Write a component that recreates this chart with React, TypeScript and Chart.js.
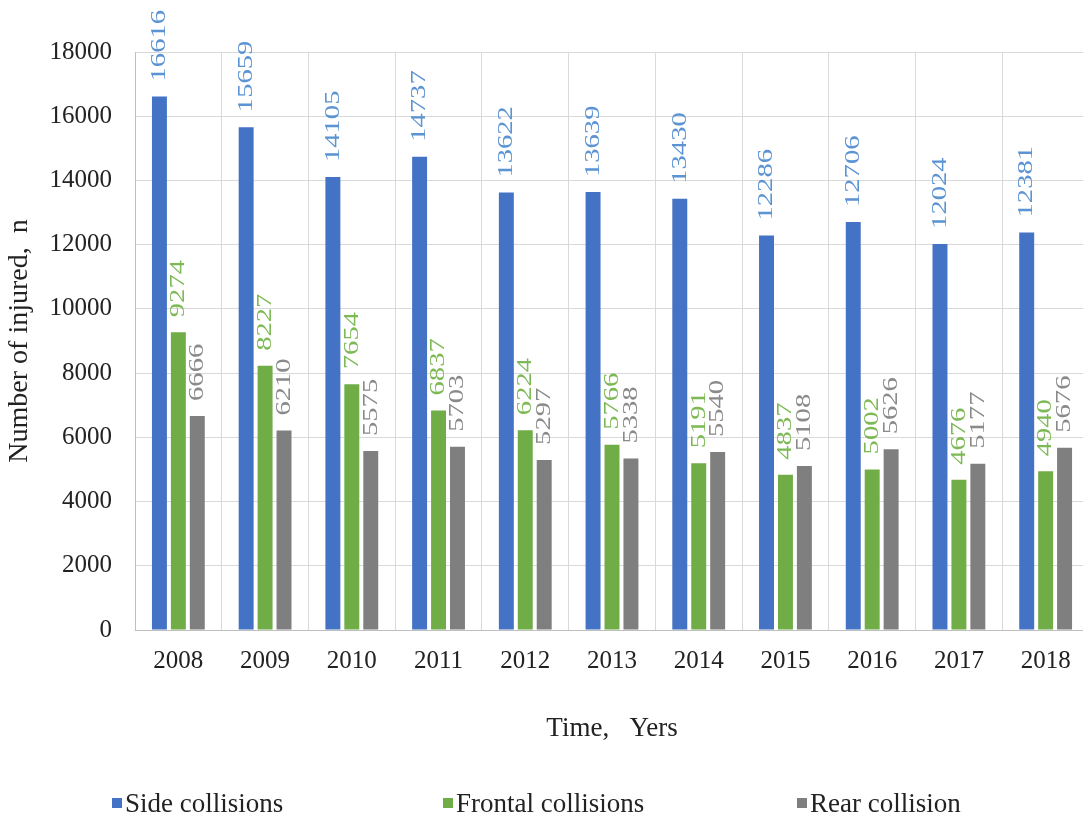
import React, { useEffect, useRef } from "react";
import { Chart, registerables } from "chart.js";

Chart.register(...registerables);

const years = ["2008", "2009", "2010", "2011", "2012", "2013", "2014", "2015", "2016", "2017", "2018"];
const sideCollisions = [16616, 15659, 14105, 14737, 13622, 13639, 13430, 12286, 12706, 12024, 12381];
const frontalCollisions = [9274, 8227, 7654, 6837, 6224, 5766, 5191, 4837, 5002, 4676, 4940];
const rearCollisions = [6666, 6210, 5575, 5703, 5297, 5338, 5540, 5108, 5626, 5177, 5676];
const yTickStep = 2000;
const yMax = 18000;

const seriesNames = ["Side collisions", "Frontal collisions", "Rear collision"];
const barColors = ["#4472C4", "#70AD47", "#7F7F7F"];
const valueColors = ["#5B93D3", "#7DB955", "#8A8A8A"];

const SERIF = "'Liberation Serif', 'Times New Roman', serif";

// Rotated value labels drawn just above each bar
const barValueLabels = {
  id: "barValueLabels",
  afterDatasetsDraw(chart: any) {
    const { ctx } = chart;
    chart.data.datasets.forEach((ds: any, di: number) => {
      const meta = chart.getDatasetMeta(di);
      meta.data.forEach((el: any, i: number) => {
        ctx.save();
        ctx.translate(el.x, el.y - 15);
        ctx.rotate(-Math.PI / 2);
        ctx.scale(1.3, 1);
        ctx.font = `22px ${SERIF}`;
        ctx.fillStyle = valueColors[di];
        ctx.textAlign = "left";
        ctx.textBaseline = "middle";
        ctx.fillText(String(ds.data[i]), 0, 0);
        ctx.restore();
      });
    });
  },
};

export default function App() {
  const canvasRef = useRef<HTMLCanvasElement | null>(null);

  useEffect(() => {
    const canvas = canvasRef.current;
    if (!canvas) return;
    const chart = new Chart(canvas, {
      type: "bar",
      data: {
        labels: years,
        datasets: [sideCollisions, frontalCollisions, rearCollisions].map((values, i) => ({
          label: seriesNames[i],
          data: values,
          backgroundColor: barColors[i],
          borderWidth: 0,
          categoryPercentage: 0.655,
          barPercentage: 0.79,
        })),
      },
      options: {
        responsive: false,
        animation: false,
        devicePixelRatio: 1,
        layout: { padding: { left: 0, right: 6, top: 52, bottom: 73 } },
        plugins: {
          legend: { display: false },
          tooltip: { enabled: false },
        },
        scales: {
          x: {
            grid: { display: true, offset: true, color: "#D9D9D9", lineWidth: 1, drawTicks: false },
            border: { display: true, color: "#BFBFBF" },
            ticks: { color: "#222", font: { family: SERIF, size: 25 }, padding: 16 },
            title: {
              display: true,
              text: "Time,   Yers",
              color: "#222",
              font: { family: SERIF, size: 27 },
              padding: { top: 0, bottom: 0 },
            },
            afterFit: (scale: any) => {
              scale.height = 115;
            },
          },
          y: {
            min: 0,
            max: yMax,
            grid: { color: "#D9D9D9", lineWidth: 1, drawTicks: false },
            border: { display: true, color: "#BFBFBF" },
            ticks: {
              stepSize: yTickStep,
              color: "#222",
              font: { family: SERIF, size: 25 },
              padding: 23,
              callback: (v: any) => String(v),
            },
            title: {
              display: true,
              text: "Number of injured,  n",
              color: "#222",
              font: { family: SERIF, size: 28 },
              padding: { top: 3, bottom: 0 },
            },
            afterFit: (scale: any) => {
              scale.width = 135;
            },
          },
        },
      },
      plugins: [barValueLabels],
    });
    return () => chart.destroy();
  }, []);

  const legendLeft = [112, 443, 797];

  return (
    <div
      style={{
        position: "fixed",
        left: 0,
        top: 0,
        width: 1083,
        height: 818,
        overflow: "hidden",
        background: "#fff",
      }}
    >
      <canvas ref={canvasRef} width={1095} height={818} style={{ display: "block" }} />
      {seriesNames.map((name, i) => (
        <div
          key={name}
          style={{
            position: "absolute",
            left: legendLeft[i],
            top: 788,
            height: 30,
            display: "flex",
            alignItems: "center",
            fontFamily: SERIF,
            fontSize: 27,
            color: "#222",
            whiteSpace: "nowrap",
          }}
        >
          <span
            style={{
              display: "inline-block",
              width: 10,
              height: 10,
              background: barColors[i],
              marginRight: 3,
            }}
          />
          {name}
        </div>
      ))}
    </div>
  );
}
